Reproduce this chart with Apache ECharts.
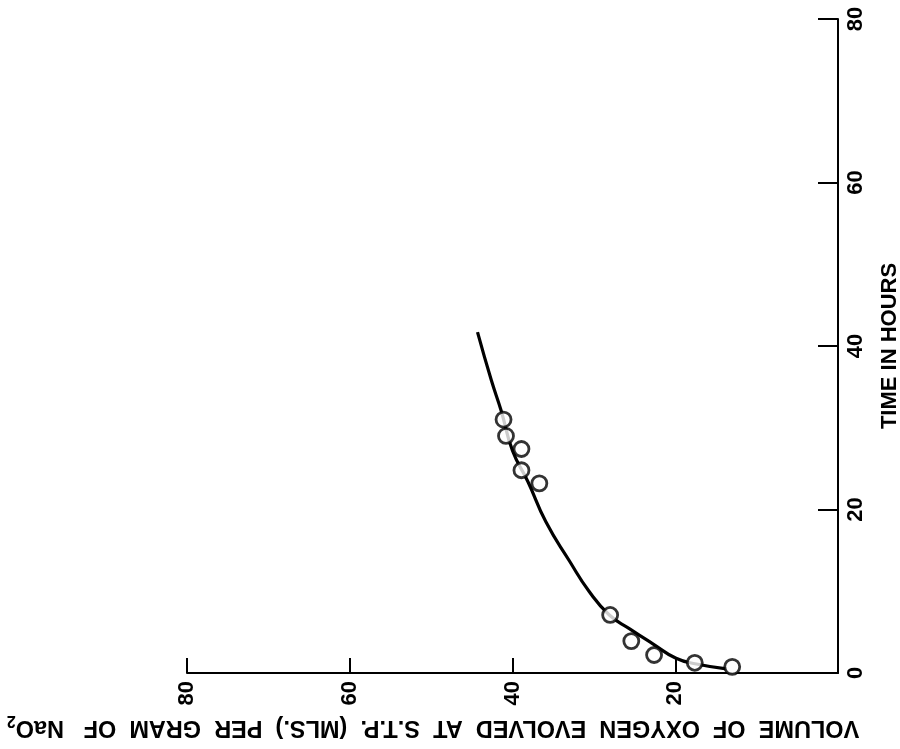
<!DOCTYPE html>
<html>
<head>
<meta charset="utf-8">
<script src="https://cdn.jsdelivr.net/npm/echarts@6/dist/echarts.min.js"></script>
<style>
  html, body { margin: 0; padding: 0; background: #fff; }
  #chart { width: 900px; height: 749px; }
</style>
</head>
<body>
<div id="chart"></div>
<script>
// Measured oxygen volume (mL at S.T.P. per gram) against time (hours)
const obsVolume = [13.0, 17.6, 22.6, 25.4, 28.0, 41.1, 40.8, 38.9, 38.9, 36.7];
const obsTime   = [0.75, 1.25, 2.2, 3.9, 7.1, 31.0, 29.0, 27.4, 24.8, 23.2];

// Fitted curve read along its length
const curveVolume = [13.7, 17.4, 19.9, 22.8, 25.6, 28.1, 30.6, 33.0, 35.9, 38.1, 40.0, 41.4, 42.6, 44.3];
const curveTime   = [0.5, 1.1, 1.8, 3.6, 5.4, 7.1, 10.0, 13.7, 18.5, 23.4, 27.2, 32.1, 35.8, 41.7];

// Axis ticks
const volumeTicks = [0, 20, 40, 60, 80];
const timeTicks = [0, 20, 40, 60, 80];

const volumeTitle = 'VOLUME  OF  OXYGEN  EVOLVED  AT  S.T.P.  (MLS.)  PER  GRAM  OF   NaO';
const volumeTitleSub = '2';
const timeTitle = 'TIME IN HOURS';

const FONT = '"Liberation Sans", Arial, Helvetica, sans-serif';
const INK = '#000';

const chart = echarts.init(document.getElementById('chart'), null, { renderer: 'canvas' });

const pairs = (xs, ys) => xs.map((x, i) => [x, ys[i]]);

chart.setOption({
  backgroundColor: '#fff',
  animation: false,
  grid: { left: 187, right: 62, top: 19, bottom: 76, containLabel: false, outerBoundsMode: 'none' },
  xAxis: {
    type: 'value',
    inverse: true,
    position: 'bottom',
    min: volumeTicks[0],
    max: volumeTicks[volumeTicks.length - 1],
    interval: volumeTicks[1] - volumeTicks[0],
    axisLine: { onZero: false, lineStyle: { color: INK, width: 2 } },
    axisTick: { inside: true, length: 15, lineStyle: { color: INK, width: 2 } },
    axisLabel: {
      rotate: 90,
      margin: 8,
      color: INK,
      fontFamily: FONT,
      fontWeight: 'bold',
      fontSize: 22,
      formatter: v => (v === 0 ? '' : String(v))
    },
    splitLine: { show: false }
  },
  yAxis: {
    type: 'value',
    position: 'right',
    min: timeTicks[0],
    max: timeTicks[timeTicks.length - 1],
    interval: timeTicks[1] - timeTicks[0],
    name: timeTitle,
    nameLocation: 'middle',
    nameRotate: 90,
    nameGap: 41,
    nameTextStyle: { color: INK, fontFamily: FONT, fontWeight: 'bold', fontSize: 22 },
    axisLine: { onZero: false, lineStyle: { color: INK, width: 2 } },
    axisTick: { inside: true, length: 20, lineStyle: { color: INK, width: 2 } },
    axisLabel: {
      rotate: 90,
      margin: 7,
      color: INK,
      fontFamily: FONT,
      fontWeight: 'bold',
      fontSize: 22
    },
    splitLine: { show: false }
  },
  series: [
    {
      name: 'curve',
      type: 'line',
      data: pairs(curveVolume, curveTime),
      smooth: 0.5,
      showSymbol: false,
      lineStyle: { color: INK, width: 3.2 },
      z: 2
    },
    {
      name: 'observed',
      type: 'scatter',
      data: pairs(obsVolume, obsTime),
      symbol: 'circle',
      symbolSize: 15,
      itemStyle: { color: '#fff', borderColor: INK, borderWidth: 2.8 },
      z: 3
    }
  ],
  graphic: [
    {
      type: 'text',
      x: 433,
      y: 727,
      rotation: Math.PI,
      style: {
        text: volumeTitle + '{sub|' + volumeTitleSub + '}',
        fill: INK,
        fontFamily: FONT,
        fontWeight: 'bold',
        fontSize: 23.5,
        lineHeight: 30,
        align: 'center',
        verticalAlign: 'middle',
        rich: {
          sub: { fontSize: 16, fontWeight: 'bold', fontFamily: FONT, lineHeight: 16, verticalAlign: 'bottom', fill: INK }
        }
      }
    }
  ]
});
</script>
</body>
</html>
